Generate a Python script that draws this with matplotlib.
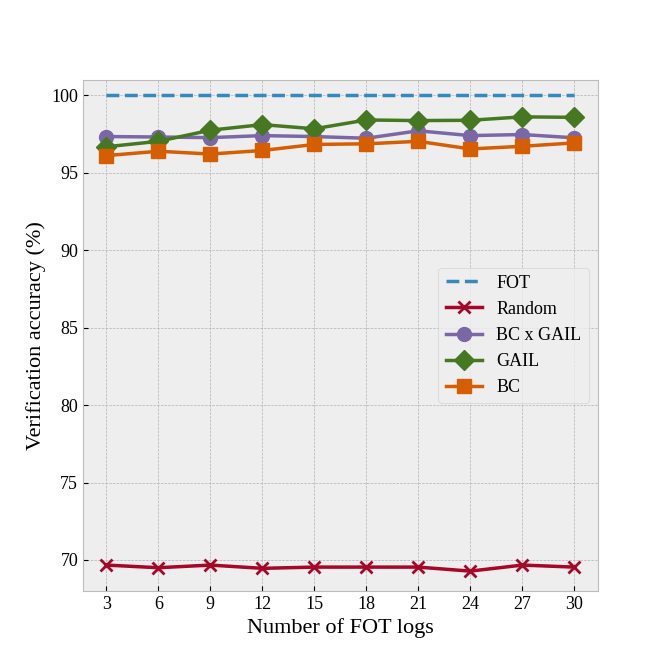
import matplotlib
matplotlib.use("Agg")
import matplotlib.pyplot as plt

plt.style.use("bmh")
plt.rcParams["font.family"] = ["Liberation Serif", "DejaVu Serif"]

# dados
logs = [3, 6, 9, 12, 15, 18, 21, 24, 27, 30]
fot = [100] * 10
random_acc = [69.67, 69.50, 69.67, 69.46, 69.54, 69.54, 69.54, 69.28, 69.67, 69.54]
bc_gail = [97.33, 97.30, 97.26, 97.39, 97.33, 97.22, 97.70, 97.39, 97.46, 97.25]
gail = [96.67, 97.02, 97.74, 98.10, 97.83, 98.40, 98.36, 98.38, 98.60, 98.57]
bc = [96.10, 96.38, 96.20, 96.43, 96.82, 96.86, 97.02, 96.53, 96.70, 96.92]

fig, ax = plt.subplots(figsize=(6.64, 6.64), dpi=100)

ax.plot(logs, fot, "--", color="#348ABD", linewidth=2.5, label="FOT")
ax.plot(logs, random_acc, marker="x", color="#A60628", linewidth=2.5,
        markersize=9, markeredgewidth=2, label="Random")
ax.plot(logs, bc_gail, marker="o", color="#7A68A6", linewidth=2.5,
        markersize=10, label="BC x GAIL")
ax.plot(logs, gail, marker="D", color="#467821", linewidth=2.5,
        markersize=10, label="GAIL")
ax.plot(logs, bc, marker="s", color="#D55E00", linewidth=2.5,
        markersize=10, label="BC")

ax.set_xticks(logs)
ax.set_ylim(68, 101)
ax.tick_params(labelsize=13)
ax.set_xlabel("Number of FOT logs", fontsize=16)
ax.set_ylabel("Verification accuracy (%)", fontsize=16)
ax.legend(loc="center right", fontsize=13)

fig.savefig("out.png")
